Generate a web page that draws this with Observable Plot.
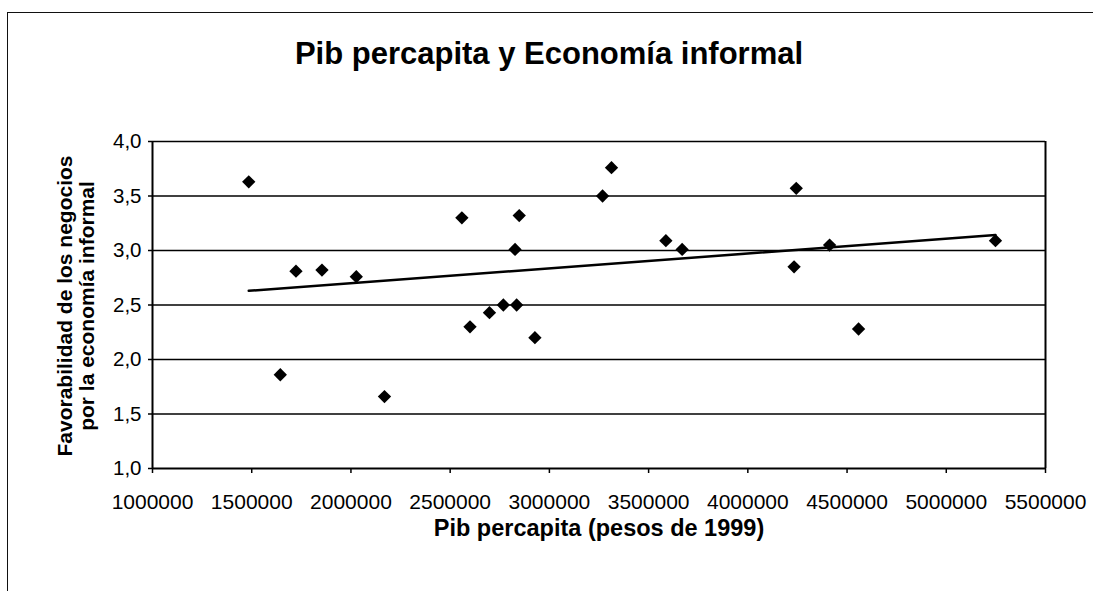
<!DOCTYPE html>
<html><head><meta charset="utf-8">
<script src="https://cdn.jsdelivr.net/npm/d3@7"></script>
<script src="https://cdn.jsdelivr.net/npm/@observablehq/plot@0.6"></script>
<style>
html,body{margin:0;padding:0;background:#fff;overflow:hidden;}
#wrap{position:relative;width:1093px;height:591px;overflow:hidden;}
#border{position:absolute;left:7px;top:12px;width:1200px;height:700px;border-top:1.5px solid #111;border-left:1.5px solid #111;pointer-events:none;}
#wrap svg{position:absolute;left:0;top:0;}
</style></head><body><div id="wrap"><div id="border"></div></div>
<script>
const pibPercapita = [1485000, 1644000, 1723000, 1854000, 2027000, 2169000, 2559000, 2600000, 2698000, 2768000, 2827000, 2835000, 2848000, 2927000, 3268000, 3313000, 3587000, 3669000, 4244000, 4233000, 4412000, 4558000, 5248000];
const favorabilidad = [3.63, 1.86, 2.81, 2.82, 2.76, 1.66, 3.30, 2.30, 2.43, 2.50, 3.01, 2.50, 3.32, 2.20, 3.50, 3.76, 3.09, 3.01, 3.57, 2.85, 3.05, 2.28, 3.09];
const xTicks = [1000000, 1500000, 2000000, 2500000, 3000000, 3500000, 4000000, 4500000, 5000000, 5500000];
const yTicks = [1.0, 1.5, 2.0, 2.5, 3.0, 3.5, 4.0];
const titleText = "Pib percapita y Economía informal";
const xTitle = "Pib percapita (pesos de 1999)";
const yTitleLine1 = "Favorabilidad de los negocios";
const yTitleLine2 = "por la economía informal";

const data = pibPercapita.map((x, i) => ({x, y: favorabilidad[i]}));
const fmtY = d => d.toFixed(1).replace(".", ",");

const chart = Plot.plot({
  width: 1093, height: 591,
  marginLeft: 152, marginRight: 48, marginTop: 141, marginBottom: 123,
  style: {fontFamily: "'Liberation Sans', Arial, sans-serif", fontSize: "20px", color: "#000", background: "transparent", overflow: "visible"},
  x: {domain: [1000000, 5500000]},
  y: {domain: [1, 4]},
  marks: [
    Plot.ruleY(yTicks.filter(d => d > 1), {stroke: "#000", strokeWidth: 1.5}),
    Plot.axisX({ticks: xTicks, tickFormat: d => String(d), tickSize: 5, tickPadding: 21, label: null, fontSize: 21, stroke: "#000", strokeWidth: 1.5, fill: "#000"}),
    Plot.axisY({ticks: yTicks, tickFormat: fmtY, tickSize: 4, tickPadding: 7, label: null, fontSize: 20.5, stroke: "#000", strokeWidth: 1.5, fill: "#000"}),
    Plot.ruleX([1000000, 5500000], {stroke: "#000", strokeWidth: 2}),
    Plot.ruleY([1], {stroke: "#000", strokeWidth: 2}),
    Plot.linearRegressionY(data, {x: "x", y: "y", ci: 0, stroke: "#000", strokeWidth: 2.5}),
    Plot.dot(data, {x: "x", y: "y", symbol: "diamond2", r: 6, fill: "#000", stroke: "none"}),
    Plot.text([titleText], {frameAnchor: "top", dx: -50, dy: -78, lineAnchor: "bottom", fontSize: 31, fontWeight: "bold", fill: "#000"}),
    Plot.text([xTitle], {frameAnchor: "bottom", dx: 0, dy: 67, lineAnchor: "bottom", fontSize: 23.5, fontWeight: "bold", fill: "#000"}),
    Plot.text([yTitleLine1], {frameAnchor: "left", textAnchor: "middle", dx: -81, dy: 1, rotate: -90, lineAnchor: "bottom", fontSize: 21, fontWeight: "bold", fill: "#000"}),
    Plot.text([yTitleLine2], {frameAnchor: "left", textAnchor: "middle", dx: -59, dy: 1, rotate: -90, lineAnchor: "bottom", fontSize: 21, fontWeight: "bold", fill: "#000"})
  ]
});
document.getElementById("wrap").appendChild(chart);
</script>
</body></html>
